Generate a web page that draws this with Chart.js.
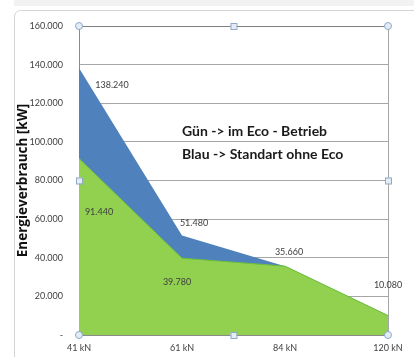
<!DOCTYPE html>
<html>
<head>
<meta charset="utf-8">
<script src="https://cdn.jsdelivr.net/npm/chart.js@4/dist/chart.umd.min.js"></script>
<style>
  html, body { margin: 0; padding: 0; background: #fff; }
  #wrap { position: relative; width: 414px; height: 357px; }
</style>
</head>
<body>
<div id="wrap"><canvas id="chart" width="414" height="357"></canvas></div>
<script>
// daten
const categories = ['41 kN', '61 kN', '84 kN', '120 kN'];
const blueValues = [138240, 51480, 35660, 10080];   // Standart ohne Eco
const greenValues = [91440, 39780, 35660, 10080];   // im Eco-Betrieb
const yTicks = [0, 20000, 40000, 60000, 80000, 100000, 120000, 140000, 160000];
const noteLines = ['Gün -> im Eco - Betrieb', 'Blau -> Standart ohne Eco'];

// label-versatz relativ zum punkt (px)
const blueLabelOffsets = [[33, 17], [12, -12], [4, -14], [0, -30]];
const greenLabelOffsets = [[20, 54], [-5, 24], null, null];

function fmt(v) {
    if (v === 0) return '-';
    return v.toLocaleString('de-DE');
}

const framePlugin = {
    id: 'frame',
    beforeDraw(chart) {
        const c = chart.ctx;
        c.save();
        c.fillStyle = '#f2f2f2';
        c.fillRect(14, 0, 400, 6);
        c.strokeStyle = '#d4d4d4';
        c.lineWidth = 1;
        c.beginPath();
        c.roundRect(14.5, 10.5, 420, 360, 6);
        c.stroke();
        c.restore();
    }
};

const labelPlugin = {
    id: 'labels',
    afterDatasetsDraw(chart) {
        const c = chart.ctx;
        c.save();
        c.font = '9px Lato, "DejaVu Sans", sans-serif';
        c.fillStyle = '#404040';
        c.textAlign = 'center';
        c.textBaseline = 'middle';
        const sets = [[1, blueLabelOffsets], [0, greenLabelOffsets]];
        sets.forEach(([di, offs]) => {
            const meta = chart.getDatasetMeta(di);
            const data = chart.data.datasets[di].data;
            meta.data.forEach((pt, i) => {
                if (!offs[i]) return;
                c.fillText(fmt(data[i]), pt.x + offs[i][0], pt.y + offs[i][1]);
            });
        });

        // hinweis-text
        const a = chart.chartArea;
        c.font = 'bold 14px Lato, "Liberation Sans", sans-serif';
        c.fillStyle = '#1a1a1a';
        c.textAlign = 'left';
        c.fillText(noteLines[0], a.left + 103, a.top + 105);
        c.fillText(noteLines[1], a.left + 103, a.top + 128);
        c.restore();
    },
    afterDraw(chart) {
        // auswahl-griffe wie in excel
        const a = chart.chartArea;
        const c = chart.ctx;
        const mx = (a.left + a.right) / 2, my = (a.top + a.bottom) / 2;
        c.save();
        c.fillStyle = '#e4edf7';
        c.strokeStyle = '#8fa9c6';
        c.lineWidth = 1;
        [[a.left, a.top], [a.right, a.top], [a.left, a.bottom], [a.right, a.bottom]].forEach(([x, y]) => {
            c.beginPath();
            c.arc(x, y, 3.5, 0, Math.PI * 2);
            c.fill();
            c.stroke();
        });
        [[mx, a.top], [a.left, my], [a.right, my], [mx, a.bottom]].forEach(([x, y]) => {
            c.fillRect(x - 3, y - 3, 6, 6);
            c.strokeRect(x - 3 + 0.5, y - 3 + 0.5, 6, 6);
        });
        c.restore();
    }
};

new Chart(document.getElementById('chart'), {
    type: 'line',
    data: {
        labels: categories,
        datasets: [
            {
                label: 'Eco',
                data: greenValues,
                borderColor: '#6cbf3a',
                borderWidth: 1,
                backgroundColor: '#92D050',
                fill: 'origin',
                pointRadius: 0,
                tension: 0,
                order: 1
            },
            {
                label: 'Standart',
                data: blueValues,
                borderColor: '#4F81BD',
                borderWidth: 0,
                backgroundColor: '#4F81BD',
                fill: 'origin',
                pointRadius: 0,
                tension: 0,
                order: 2
            }
        ]
    },
    options: {
        responsive: false,
        animation: false,
        layout: { padding: { left: 0, right: 26, top: 26, bottom: 0 } },
        plugins: {
            legend: { display: false },
            tooltip: { enabled: false }
        },
        scales: {
            x: {
                offset: false,
                grid: {
                    drawTicks: false,
                    color: (ctx) => ctx.index === categories.length - 1 ? '#a6a6a6' : 'transparent'
                },
                border: { color: '#8c8c8c' },
                ticks: {
                    color: '#404040',
                    font: { family: 'Lato, "DejaVu Sans", sans-serif', size: 9 },
                    padding: 8,
                    maxRotation: 0
                },
                afterFit(scale) { scale.height = 22; }
            },
            y: {
                min: 0,
                max: 160000,
                afterBuildTicks(scale) { scale.ticks = yTicks.map(v => ({ value: v })); },
                grid: {
                    drawTicks: false,
                    color: (ctx) => ctx.index === yTicks.length - 1 ? '#7f7f7f' : '#a6a6a6'
                },
                border: { color: '#8c8c8c' },
                ticks: {
                    color: '#404040',
                    font: { family: 'Lato, "DejaVu Sans", sans-serif', size: 9 },
                    padding: 16,
                    callback: (v) => fmt(v)
                },
                title: {
                    display: true,
                    text: 'Energieverbrauch [kW]',
                    color: '#111',
                    font: { family: '"Open Sans", "DejaVu Sans", sans-serif', size: 13.5, weight: 'bold' },
                    padding: { top: 15, bottom: 0 }
                },
                afterFit(scale) { scale.width = 79; }
            }
        }
    },
    plugins: [framePlugin, labelPlugin]
});
</script>
</body>
</html>
